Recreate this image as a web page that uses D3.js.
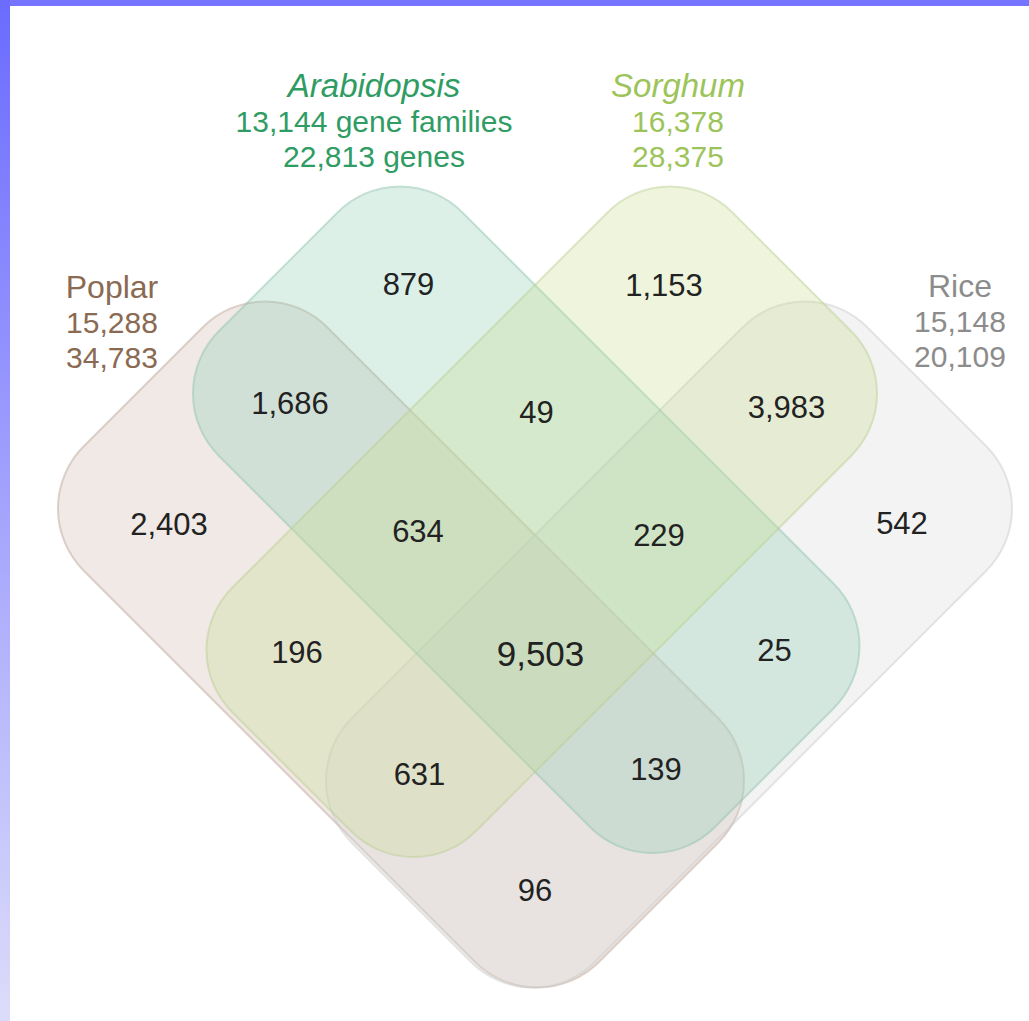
<!DOCTYPE html>
<html>
<head>
<meta charset="utf-8">
<script src="https://cdn.jsdelivr.net/npm/d3@7"></script>
<style>
  body { margin: 0; background: #fff; }
  svg { display: block; font-family: "Liberation Sans", Arial, sans-serif; }
</style>
</head>
<body>
<div id="venn"></div>
<script>
// sets, in drawing order
var setKeys = ["P", "R", "A", "S"];
var setNames = ["Poplar", "Rice", "Arabidopsis", "Sorghum"];
var setFamilies = ["15,288", "15,148", "13,144 gene families", "16,378"];
var setGenes = ["34,783", "20,109", "22,813 genes", "28,375"];

// region membership and counts
var regionSets = ["P", "A", "S", "R", "PA", "AS", "SR", "PR",
                  "PAS", "ASR", "PS", "AR", "PSR", "PAR", "PASR"];
var regionCounts = ["2,403", "879", "1,153", "542", "1,686", "49", "3,983", "96",
                    "634", "229", "196", "25", "631", "139", "9,503"];

var width = 1029, height = 1021;

var svg = d3.select("#venn").append("svg")
    .attr("width", width)
    .attr("height", height);

// slide frame
var defs = svg.append("defs");
var grad = defs.append("linearGradient")
    .attr("id", "edge")
    .attr("x1", 0).attr("y1", 0).attr("x2", 0).attr("y2", 1);
grad.append("stop").attr("offset", "0%").attr("stop-color", "#6b6bff");
grad.append("stop").attr("offset", "100%").attr("stop-color", "#dcdcfa");

svg.append("rect").attr("width", width).attr("height", height).attr("fill", "#fff");
svg.append("rect").attr("width", width).attr("height", 6).attr("fill", "#7474ff");
svg.append("rect").attr("width", 10).attr("height", height).attr("fill", "url(#edge)");

// geometry in the diagonal frame: u = x + y, v = y - x
var bands = {
    P: { u: [530, 1561], v: [0, 487] },
    A: { u: [550, 1542], v: [-250, 237] },
    S: { u: [820, 1307], v: [-520, 480] },
    R: { u: [1070, 1557], v: [-540, 491] }
};
var style = {
    P: { fill: "#cdb6a8", stroke: "#b8a294" },
    A: { fill: "#8acdb2", stroke: "#8cc2aa" },
    S: { fill: "#c6de8a", stroke: "#b8cc90" },
    R: { fill: "#d6d6d6", stroke: "#c8c8c8" }
};
var corner = 88;
var k = Math.SQRT2;

var shapes = svg.append("g").attr("transform", "rotate(45)");
shapes.selectAll("rect")
    .data(setKeys)
    .enter().append("rect")
    .attr("x", d => bands[d].u[0] / k)
    .attr("y", d => bands[d].v[0] / k)
    .attr("width", d => (bands[d].u[1] - bands[d].u[0]) / k)
    .attr("height", d => (bands[d].v[1] - bands[d].v[0]) / k)
    .attr("rx", corner)
    .attr("fill", d => style[d].fill)
    .attr("fill-opacity", 0.3)
    .attr("stroke", d => style[d].stroke)
    .attr("stroke-opacity", 0.45)
    .attr("stroke-width", 2);

// label centres along each diagonal (cell columns / rows)
var uMid = [693, 949, 1194, 1425];
var vMid = [-379, -124, 113, 355];

var cell = function(code) {
    var inS = code.indexOf("S") >= 0, inR = code.indexOf("R") >= 0;
    var inA = code.indexOf("A") >= 0, inP = code.indexOf("P") >= 0;
    var ci = inS ? (inR ? 2 : 1) : (inR ? 3 : 0);
    var di = inP ? (inA ? 2 : 3) : (inA ? 1 : 0);
    var u = uMid[ci], v = vMid[di];
    return [(u - v) / 2, (u + v) / 2];
};

svg.append("g").selectAll("text")
    .data(regionSets)
    .enter().append("text")
    .attr("x", d => cell(d)[0])
    .attr("y", d => cell(d)[1])
    .attr("dy", ".35em")
    .attr("text-anchor", "middle")
    .attr("font-size", d => d === "PASR" ? 35 : 31)
    .attr("fill", "#222")
    .text((d, i) => regionCounts[i]);

// set titles
var titles = {
    P: { x: 112, y: 298, color: "#8a6a52", italic: false, size: 32 },
    R: { x: 960, y: 297, color: "#8c8c8c", italic: false, size: 32 },
    A: { x: 374, y: 97,  color: "#2f9c64", italic: true,  size: 33 },
    S: { x: 678, y: 97,  color: "#9cc45a", italic: true,  size: 33 }
};

var tg = svg.append("g").attr("text-anchor", "middle");
setKeys.forEach(function(key, i) {
    var t = titles[key];
    var lines = [setNames[i], setFamilies[i], setGenes[i]];
    tg.append("g").selectAll("text")
        .data(lines)
        .enter().append("text")
        .attr("x", t.x)
        .attr("y", (d, j) => t.y + j * 35)
        .attr("font-size", (d, j) => j === 0 ? t.size : 30)
        .attr("font-style", (d, j) => j === 0 && t.italic ? "italic" : "normal")
        .attr("fill", t.color)
        .text(d => d);
});
</script>
</body>
</html>
